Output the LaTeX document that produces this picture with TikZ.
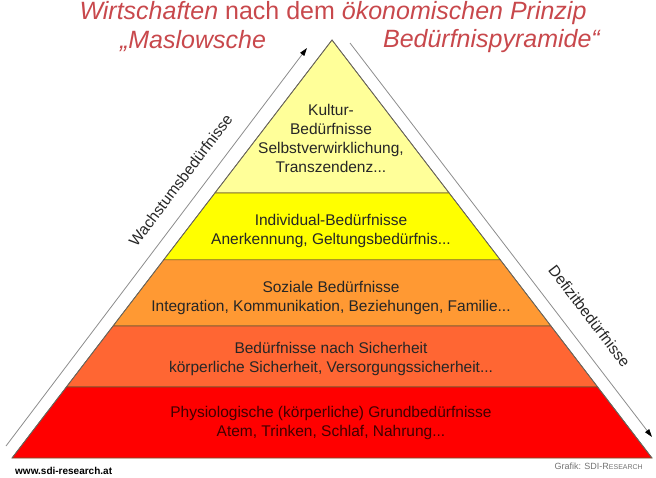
\documentclass[tikz,border=0pt]{standalone}
\usepackage{fontspec}
\setmainfont{Liberation Sans}
\usetikzlibrary{calc,arrows.meta}

\definecolor{titlered}{RGB}{200,72,76}
\definecolor{layA}{RGB}{255,255,153}
\definecolor{layB}{RGB}{255,255,0}
\definecolor{layC}{RGB}{255,153,51}
\definecolor{layD}{RGB}{255,102,51}
\definecolor{layE}{RGB}{255,0,0}
\definecolor{edgecol}{RGB}{110,90,50}

\begin{document}
\begin{tikzpicture}[x=1pt,y=-1pt,
  every node/.style={font=\fontsize{15.5}{19}\selectfont},
  title/.style={text=titlered,font=\fontsize{25}{28}\selectfont,inner sep=0pt},
  layertxt/.style={align=center,text=black!85,inner sep=0pt},
  sidetxt/.style={sloped,above=6pt,text=black!85,inner sep=0pt},
  sidearr/.style={draw=black!45,line width=0.8pt,-{Triangle[length=8pt,width=5pt,color=black]}},
  foot/.style={font=\fontsize{9}{10}\selectfont,inner sep=0pt}]
\useasboundingbox (0,0) rectangle (656,477);
\coordinate (apex) at (332,40);
\coordinate (bl) at (12,458);
\coordinate (br) at (652,458);
% layers, from the top down
\foreach \fa/\fb/\col in {0/0.366/layA,0.366/0.526/layB,0.526/0.684/layC,0.684/0.830/layD,0.830/1/layE}
  \filldraw[fill=\col,draw=edgecol,line width=0.7pt]
    ($(apex)!\fa!(bl)$) -- ($(apex)!\fb!(bl)$) -- ($(apex)!\fb!(br)$) -- ($(apex)!\fa!(br)$) -- cycle;
\draw[black!60,line width=0.7pt] (bl) -- (apex) -- (br);

\node[layertxt] (kultur) at (331,138) {Kultur-\\Bedürfnisse\\Selbstverwirklichung,\\Transzendenz...};
\node[layertxt] (indiv)  at (331,231) {Individual-Bedürfnisse\\Anerkennung, Geltungsbedürfnis...};
\node[layertxt] (sozial) at (331,297.5) {Soziale Bedürfnisse\\Integration, Kommunikation, Beziehungen, Familie...};
\node[layertxt] (sicher) at (331,359) {Bedürfnisse nach Sicherheit\\körperliche Sicherheit, Versorgungssicherheit...};
\node[layertxt,text=black!75!red] (physio) at (331,423) {Physiologische (körperliche) Grundbedürfnisse\\Atem, Trinken, Schlaf, Nahrung...};

% side arrows
\coordinate (wbot) at (6,446);
\coordinate (wtop) at (307,48);
\coordinate (dtop) at (350,43);
\coordinate (dbot) at (652,437);
\draw[sidearr] (wbot) -- node[sidetxt,pos=0.636,above=9pt] {Wachstumsbedürfnisse} (wtop);
\draw[sidearr] (dtop) -- node[sidetxt,pos=0.73,above=12pt] {Defizitbedürfnisse} (dbot);

% title
\node[title] (title1) at (333,13) {\textit{Wirtschaften} nach dem \textit{ökonomischen Prinzip}};
\node[title] (title2a) at (193,41) {\textit{„Maslowsche}};
\node[title] (title2b) at (492,41) {\textit{Bedürfnispyramide“}};

\node[foot,font=\fontsize{10}{11}\selectfont\bfseries,anchor=west] (web) at (15,471) {www.sdi-research.at};
\node[foot,text=black!55,anchor=east] (grafik) at (643,466) {Grafik: SDI-R{\fontsize{7}{8}\selectfont ESEARCH}};
\end{tikzpicture}
\end{document}
